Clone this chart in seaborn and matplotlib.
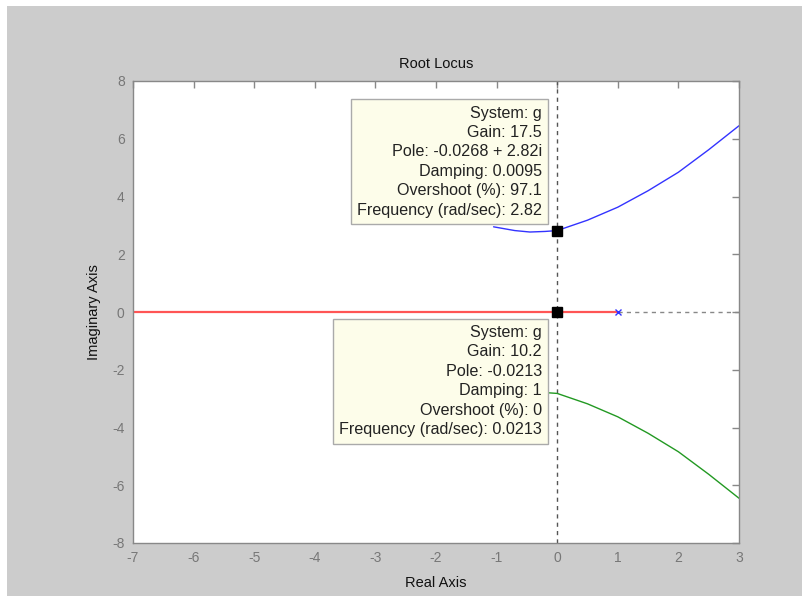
import numpy as np
import pandas as pd
import matplotlib
matplotlib.use('Agg')
import matplotlib.pyplot as plt
from matplotlib.patches import Rectangle
import seaborn as sns

# root locus branches
upper_x = [-1.05, -0.7, -0.45, -0.2, 0.0, 0.5, 1.0, 1.5, 2.0, 2.5, 3.0]
upper_y = [2.95, 2.82, 2.77, 2.79, 2.82, 3.18, 3.63, 4.2, 4.84, 5.62, 6.45]
lower_x = upper_x
lower_y = [-v for v in upper_y]

real_x = [-7.0, 1.0]
real_y = [0.0, 0.0]
dash_x = [1.0, 3.0]
dash_y = [0.0, 0.0]
pole_x = [1.0]
pole_y = [0.0]
marker_x = [0.0, 0.0]
marker_y = [2.82, 0.0]

x_ticks = [-7, -6, -5, -4, -3, -2, -1, 0, 1, 2, 3]
y_ticks = [-8, -6, -4, -2, 0, 2, 4, 6, 8]

tip_upper = ["System: g", "Gain: 17.5", "Pole: -0.0268 + 2.82i", "Damping: 0.0095",
             "Overshoot (%): 97.1", "Frequency (rad/sec): 2.82"]
tip_lower = ["System: g", "Gain: 10.2", "Pole: -0.0213", "Damping: 1",
             "Overshoot (%): 0", "Frequency (rad/sec): 0.0213"]

sns.set_style('white')
plt.rcParams['font.family'] = ['Liberation Sans', 'DejaVu Sans']
plt.rcParams['axes.unicode_minus'] = False

upper = pd.DataFrame({'x': upper_x, 'y': upper_y})
lower = pd.DataFrame({'x': lower_x, 'y': lower_y})

fig = plt.figure(figsize=(8.03, 5.96), dpi=100, facecolor='white')
fig.add_artist(Rectangle((7 / 803, 0), 1, (596 - 6) / 596, transform=fig.transFigure,
                         facecolor='#cccccc', edgecolor='none', zorder=-5))
ax = fig.add_axes([133 / 803, 53 / 596, 606 / 803, 462 / 596])
ax.set_facecolor('white')

sns.lineplot(data=upper, x='x', y='y', ax=ax, color='#3333ff', linewidth=1.0,
             sort=False, estimator=None, zorder=2)
sns.lineplot(data=lower, x='x', y='y', ax=ax, color='#229922', linewidth=1.0,
             sort=False, estimator=None, zorder=2)
ax.plot(real_x, real_y, color='#ff5555', linewidth=1.6, zorder=2)
ax.plot(dash_x, dash_y, color='#888888', linewidth=1.0, linestyle=(0, (3, 3)), zorder=1)
ax.axvline(0, color='#555555', linewidth=1.0, linestyle=(0, (3, 3)), zorder=1)
ax.plot(pole_x, pole_y, linestyle='none', marker='x', color='#3333ff', markersize=5, zorder=3)
ax.plot(marker_x, marker_y, linestyle='none', marker='s', color='black', markersize=7, zorder=6)

box = dict(boxstyle='square,pad=0.4', facecolor='#fdfdea', edgecolor='#aaaaaa', linewidth=1.0)
ax.text(-0.25, 7.15, "\n".join(tip_upper), ha='right', va='top', fontsize=11.6,
        color='#222222', linespacing=1.37, bbox=box, zorder=5)
ax.text(-0.25, -0.45, "\n".join(tip_lower), ha='right', va='top', fontsize=11.6,
        color='#222222', linespacing=1.37, bbox=box, zorder=5)

ax.set_xlim(-7, 3)
ax.set_ylim(-8, 8)
ax.set_xticks(x_ticks)
ax.set_yticks(y_ticks)
ax.tick_params(direction='in', length=5, width=1, colors='#888888', labelsize=10,
               top=True, right=True, labelcolor='#777777', pad=6)
for s in ax.spines.values():
    s.set_color('#888888')
    s.set_linewidth(1.0)

ax.set_title('Root Locus', fontsize=10.5, color='#111111', pad=9)
ax.set_xlabel('Real Axis', fontsize=10.5, color='#111111', labelpad=8)
ax.set_ylabel('Imaginary Axis', fontsize=10.5, color='#111111', labelpad=8)

fig.savefig('out.png', dpi=100, facecolor=fig.get_facecolor())
